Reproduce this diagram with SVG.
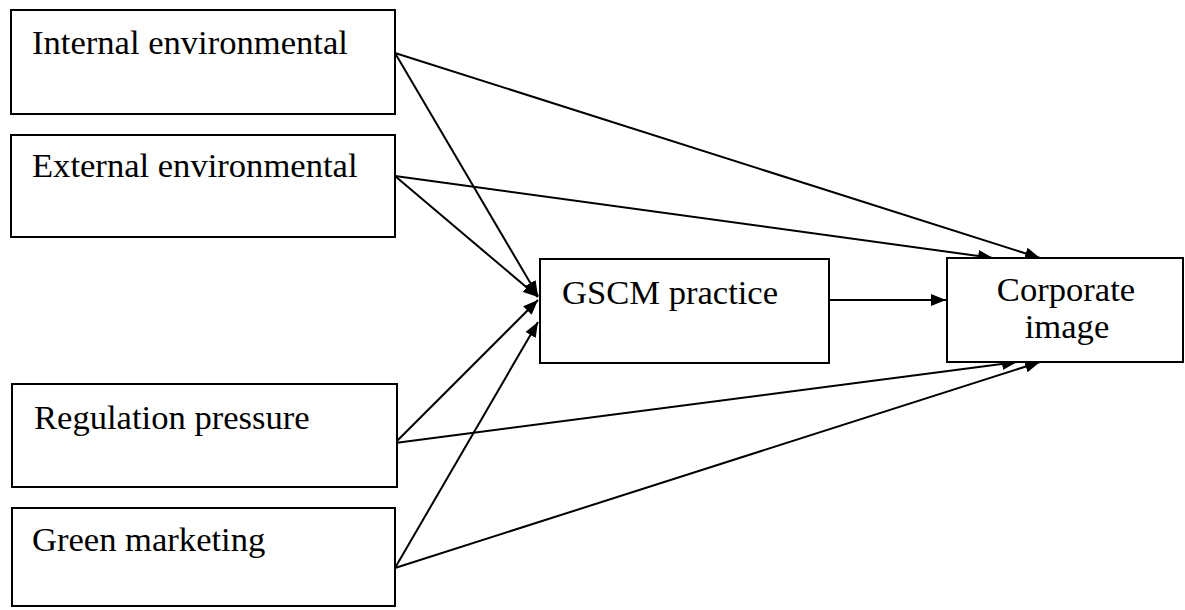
<svg xmlns="http://www.w3.org/2000/svg" width="1185" height="610" viewBox="0 0 1185 610">
<style>
.box{fill:#fff;stroke:#000;stroke-width:2}
.lbl{font-family:"Liberation Serif","Times New Roman",serif;font-size:34.6px;fill:#000}
.c{stroke:#000;stroke-width:2;fill:none;marker-end:url(#ah)}
</style>
<defs>
<marker id="ah" markerUnits="userSpaceOnUse" markerWidth="16" markerHeight="12" refX="15" refY="6" orient="auto">
<path d="M0,0 L15,6 L0,12 Z" fill="#000"/>
</marker>
</defs>
<rect width="1185" height="610" fill="#fff"/>
<g id="connectors">
<line class="c" x1="395" y1="53" x2="1040" y2="258"/>
<line class="c" x1="395" y1="53" x2="538" y2="296"/>
<line class="c" x1="395" y1="176" x2="993" y2="258"/>
<line class="c" x1="395" y1="176" x2="538" y2="297"/>
<line class="c" x1="829" y1="300" x2="946" y2="300"/>
<line class="c" x1="395" y1="443" x2="538" y2="300"/>
<line class="c" x1="395" y1="443" x2="1017" y2="362"/>
<line class="c" x1="395" y1="568" x2="538" y2="322"/>
<line class="c" x1="395" y1="568" x2="1040" y2="362"/>
</g>
<g id="internal">
<rect class="box" x="11" y="10" width="384" height="104"/>
<text class="lbl" x="32" y="54">Internal environmental</text>
</g>
<g id="external">
<rect class="box" x="11" y="135" width="384" height="102"/>
<text class="lbl" x="32" y="177">External environmental</text>
</g>
<g id="regulation">
<rect class="box" x="12" y="384" width="385" height="103"/>
<text class="lbl" x="34" y="429">Regulation pressure</text>
</g>
<g id="green">
<rect class="box" x="12" y="508" width="383" height="98"/>
<text class="lbl" x="32" y="551">Green marketing</text>
</g>
<g id="gscm">
<rect class="box" x="540" y="259" width="289" height="104"/>
<text class="lbl" x="562" y="304">GSCM practice</text>
</g>
<g id="corporate">
<rect class="box" x="947" y="258" width="236" height="104"/>
<text class="lbl" x="1066" y="301" text-anchor="middle">Corporate</text>
<text class="lbl" x="1067" y="338" text-anchor="middle">image</text>
</g>
</svg>
